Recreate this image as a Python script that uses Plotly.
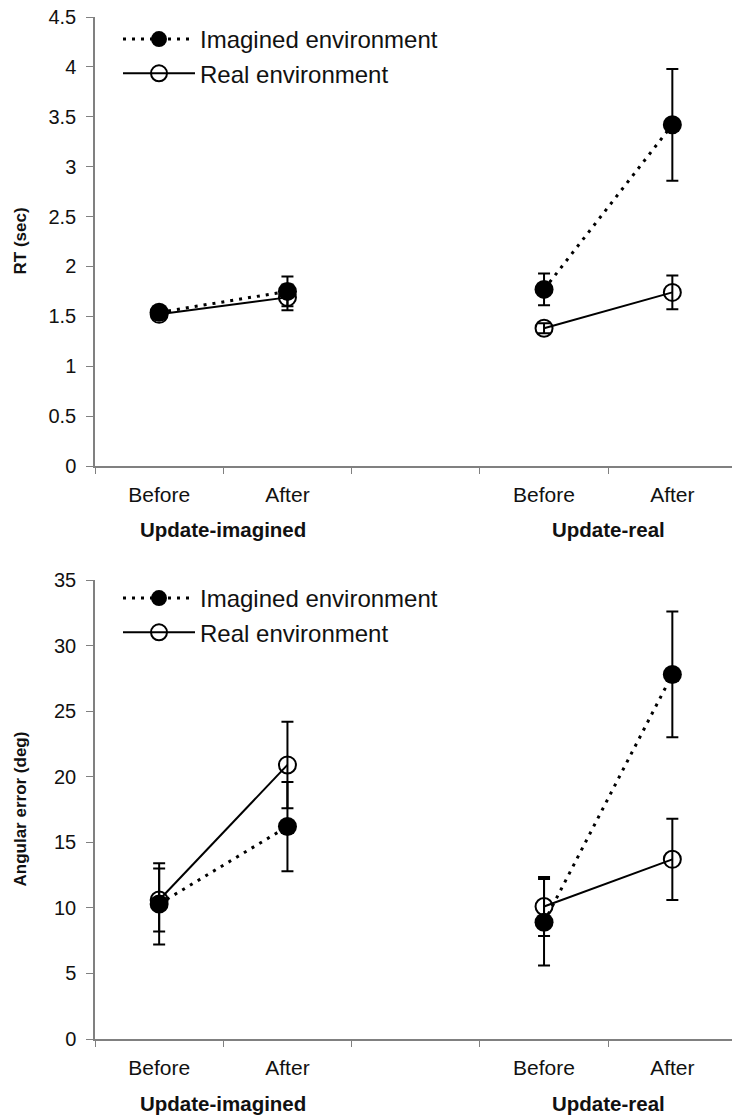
import plotly.graph_objects as go

# ---- data ----
groups = ["Update-imagined", "Update-real"]
conditions = ["Before", "After"]
series_names = ["Imagined environment", "Real environment"]

# RT (sec): [Update-imagined Before, After, Update-real Before, After]
rt_imagined = [1.54, 1.75, 1.77, 3.42]
rt_imagined_err = [0.05, 0.15, 0.16, 0.56]
rt_real = [1.52, 1.69, 1.38, 1.74]
rt_real_err = [0.05, 0.13, 0.05, 0.17]

# Angular error (deg)
ae_imagined = [10.3, 16.2, 8.9, 27.8]
ae_imagined_err = [3.1, 3.4, 3.3, 4.8]
ae_real = [10.6, 20.9, 10.1, 13.7]
ae_real_err = [2.4, 3.3, 2.25, 3.1]

rt_ticks = [0, 0.5, 1, 1.5, 2, 2.5, 3, 3.5, 4, 4.5]
ae_ticks = [0, 5, 10, 15, 20, 25, 30, 35]

FONT = "Liberation Sans, Arial, sans-serif"
AX = "#808080"

W, H = 732, 1116
ml, mr, mt, mb = 95, 0, 17, 77
ph = H - mt - mb
pw = W - ml - mr
top_dom = [(1039 - 466) / ph, 1.0]
bot_dom = [0.0, (1039 - 580) / ph]

# x positions: group index * 3 + condition index
positions = [gi * 3 + ci for gi in range(len(groups)) for ci in range(len(conditions))]
boundaries = [p - 0.5 for p in range(0, 5)]

fig = go.Figure()

styles = {
    "Imagined environment": dict(line=dict(color="black", width=3, dash="3px,6px"),
                                 marker=dict(symbol="circle", size=19, color="black")),
    "Real environment": dict(line=dict(color="black", width=2),
                             marker=dict(symbol="circle-open", size=17, color="black",
                                         line=dict(width=2, color="black"))),
}

panels = [
    ("x", "y", "legend", [(series_names[0], rt_imagined, rt_imagined_err),
                          (series_names[1], rt_real, rt_real_err)]),
    ("x2", "y2", "legend2", [(series_names[0], ae_imagined, ae_imagined_err),
                             (series_names[1], ae_real, ae_real_err)]),
]

for xa, ya, leg, series in panels:
    for name, vals, errs in series:
        for gi in range(len(groups)):
            idx = [gi * len(conditions) + ci for ci in range(len(conditions))]
            fig.add_trace(go.Scatter(
                x=[positions[i] for i in idx],
                y=[vals[i] for i in idx],
                error_y=dict(type="data", array=[errs[i] for i in idx], visible=True,
                             color="black", thickness=2, width=6),
                mode="lines+markers",
                name=name,
                legendgroup=name + leg,
                showlegend=(gi == 0),
                legend=leg,
                xaxis=xa, yaxis=ya,
                cliponaxis=False,
                **styles[name],
            ))

xcommon = dict(
    range=[-0.5, 4.465],
    tickmode="array",
    tickvals=positions,
    ticktext=conditions * len(groups),
    ticks="",
    ticklabelstandoff=9,
    showline=True, linecolor=AX, linewidth=1.5,
    showgrid=False, zeroline=False,
    tickfont=dict(family=FONT, size=21, color="#111"),
    minor=dict(tickmode="array", tickvals=boundaries, ticks="outside",
               ticklen=6, tickcolor=AX, tickwidth=1.2, showgrid=False),
)
ycommon = dict(
    showline=True, linecolor=AX, linewidth=1.5,
    ticks="outside", ticklen=7, tickcolor=AX, tickwidth=1.2,
    showgrid=False, zeroline=False,
    ticklabelstandoff=6,
    tickfont=dict(family=FONT, size=20, color="#111"),
)

legend_common = dict(xanchor="left", yanchor="top",
                     font=dict(family=FONT, size=24, color="#111"),
                     bgcolor="rgba(0,0,0,0)", itemwidth=72, tracegroupgap=0)

fig.update_layout(
    width=W, height=H,
    margin=dict(l=ml, r=mr, t=mt, b=mb),
    paper_bgcolor="white", plot_bgcolor="white",
    font=dict(family=FONT, color="#111"),
    xaxis=dict(domain=[0, 1], anchor="y", **xcommon),
    yaxis=dict(domain=top_dom, anchor="x", range=[0, 4.5], tickvals=rt_ticks, **ycommon),
    xaxis2=dict(domain=[0, 1], anchor="y2", **xcommon),
    yaxis2=dict(domain=bot_dom, anchor="x2", range=[0, 35], tickvals=ae_ticks, **ycommon),
    legend=dict(x=(118 - ml) / pw, y=1.0, **legend_common),
    legend2=dict(x=(118 - ml) / pw, y=bot_dom[1] + 4 / ph, **legend_common),
)

annotations = []
for xa, ya, ytitle, dom_h in [("x", "y", "RT (sec)", 449), ("x2", "y2", "Angular error (deg)", 459)]:
    for gi, g in enumerate(groups):
        annotations.append(dict(
            text="<b>%s</b>" % g, x=gi * 3 + 0.5, xref=xa,
            y=-64 / dom_h, yref=ya + " domain", yanchor="middle",
            showarrow=False, font=dict(family=FONT, size=20.5, color="#111")))
    annotations.append(dict(
        text="<b>%s</b>" % ytitle, x=(20 - ml) / pw, xref="paper",
        y=0.5, yref=ya + " domain", textangle=-90, xanchor="center", yanchor="middle",
        showarrow=False, font=dict(family=FONT, size=17, color="#111")))
fig.update_layout(annotations=annotations)

fig.write_html("out.html",
               config={"displayModeBar": False},
               post_script="document.body.style.margin='0';document.body.style.overflow='hidden';")
